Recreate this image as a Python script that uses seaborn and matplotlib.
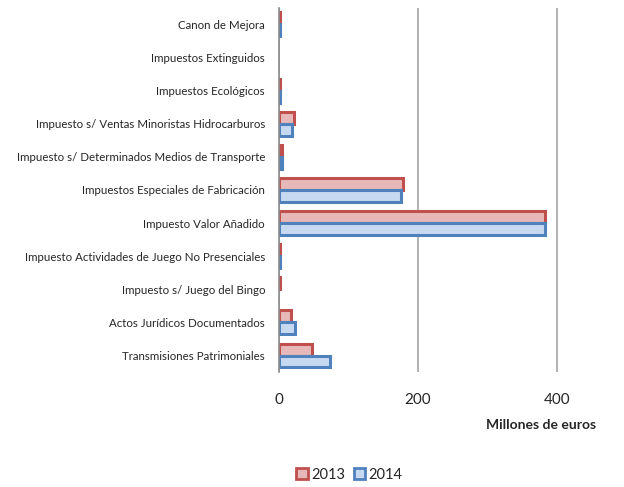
import matplotlib
matplotlib.use("Agg")
import matplotlib.pyplot as plt
import seaborn as sns
import pandas as pd
from matplotlib.patches import Patch

categories = [
    "Canon de Mejora",
    "Impuestos Extinguidos",
    "Impuestos Ecológicos",
    "Impuesto s/ Ventas Minoristas Hidrocarburos",
    "Impuesto s/ Determinados Medios de Transporte",
    "Impuestos Especiales de Fabricación",
    "Impuesto Valor Añadido",
    "Impuesto Actividades de Juego No Presenciales",
    "Impuesto s/ Juego del Bingo",
    "Actos Jurídicos Documentados",
    "Transmisiones Patrimoniales",
]
values_2013 = [2, 0, 1.5, 22, 4, 178, 383, 2, 1.5, 17, 48]
values_2014 = [2, 0, 1.5, 19, 4, 176, 382, 2, 0, 23, 74]
years = ["2013", "2014"]
xticks = [0, 200, 400]

df = pd.DataFrame({
    "cat": categories * 2,
    "val": values_2013 + values_2014,
    "year": [years[0]] * len(categories) + [years[1]] * len(categories),
})

fills = {"2013": "#E6B9B8", "2014": "#C6D9F1"}
edges = {"2013": "#C0504D", "2014": "#4F81BD"}

sns.set_style("white")
plt.rcParams["font.family"] = ["Lato", "DejaVu Sans"]

fig = plt.figure(figsize=(6.24, 4.87), dpi=100)
ax = fig.add_axes([0.447, 0.236, 0.515, 0.748])

sns.barplot(data=df, y="cat", x="val", hue="year", orient="h",
            palette=fills, ax=ax, width=0.72, legend=False, saturation=1)

for cont, yr in zip(ax.containers, years):
    for bar in cont:
        bar.set_edgecolor(edges[yr])
        bar.set_linewidth(2.2 if bar.get_width() > 0 else 0)
        bar.set_joinstyle("miter")

ax.set_xlim(0, 462)
ax.set_xticks(xticks)
ax.set_xticklabels([str(t) for t in xticks], fontsize=11)
ax.tick_params(axis="x", length=4, color="#A0A0A0", pad=11, width=1)
ax.tick_params(axis="y", length=0, pad=10, labelsize=8.3)
ax.set_xlabel("")
ax.set_ylabel("")
ax.xaxis.grid(True, color="#A6A6A6", linewidth=1.2)
ax.set_axisbelow(True)
for s in ["top", "right", "bottom"]:
    ax.spines[s].set_visible(False)
ax.spines["left"].set_color("#8C8C8C")
ax.spines["left"].set_linewidth(1.2)

fig.text(0.955, 0.127, "Millones de euros", ha="right", va="center",
         fontsize=10, fontweight="bold")

handles = [Patch(facecolor=fills[y], edgecolor=edges[y], linewidth=2, label=y) for y in years]
fig.legend(handles=handles, loc="center", bbox_to_anchor=(0.56, 0.025), ncol=2,
           frameon=False, fontsize=10.5, handlelength=0.8, handleheight=0.8,
           handletextpad=0.2, columnspacing=0.6)

fig.savefig("out.png", dpi=100)
